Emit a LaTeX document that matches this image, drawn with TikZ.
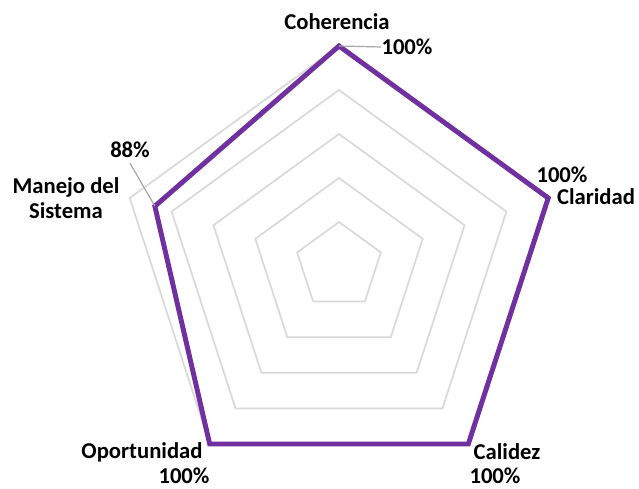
\documentclass[tikz,border=0pt]{standalone}
\usepackage{fontspec}
\setmainfont{Carlito}
\usetikzlibrary{positioning}
\definecolor{ringgray}{HTML}{D9D9D9}
\definecolor{leadgray}{HTML}{A6A6A6}
\definecolor{serie}{HTML}{7030A0}

\begin{document}
\begin{tikzpicture}[x=0.75pt, y=0.75pt, every node/.style={font=\fontsize{17}{19}\selectfont\bfseries}]
    \tikzstyle{ring} = [draw=ringgray, line width=1.3pt, line join=miter]
    \tikzstyle{dataline} = [draw=serie, line width=3.7pt, line join=miter]
    \tikzstyle{leader} = [draw=leadgray, line width=0.9pt]
    \tikzstyle{axislabel} = [inner sep=0pt, align=center]
    \tikzstyle{pct} = [inner sep=0pt]

    \useasboundingbox (0,0) rectangle (639,489);

    \begin{scope}[shift={(339,223)}]
        % grid rings
        \foreach \r in {44,88,132,176,220}
            \draw[ring] (90:\r) -- (18:\r) -- (-54:\r) -- (-126:\r) -- (162:\r) -- cycle;

        % data points
        \coordinate (pcoh) at (90:220);
        \coordinate (pcla) at (18:220);
        \coordinate (pcal) at (-54:220);
        \coordinate (popo) at (-126:220);
        \coordinate (pman) at (162:193.6);
    \end{scope}

    \draw[dataline] (pcoh) -- (pcla) -- (pcal) -- (popo) -- (pman) -- cycle;

    % axis labels
    \node[axislabel] (coh) at (337,467) {Coherencia};
    \node[axislabel] (cla) at (596,292) {Claridad};
    \node[axislabel] (cal) at (507,37) {Calidez};
    \node[axislabel] (opo) at (142,37) {Oportunidad};
    \node[axislabel] (man) at (66,291) {Manejo del\\Sistema};

    % value labels
    \node[pct] (vcoh) at (407,442) {100\%};
    \node[pct] (vcla) at (562,314) {100\%};
    \node[pct] (vcal) at (495,13) {100\%};
    \node[pct] (vopo) at (184,13) {100\%};
    \node[pct] (vman) at (130,339) {88\%};

    \draw[leader] (pcoh) -- (vcoh.west);
    \draw[leader] (vman.south) ++(0,-5) -- (pman);
\end{tikzpicture}
\end{document}
